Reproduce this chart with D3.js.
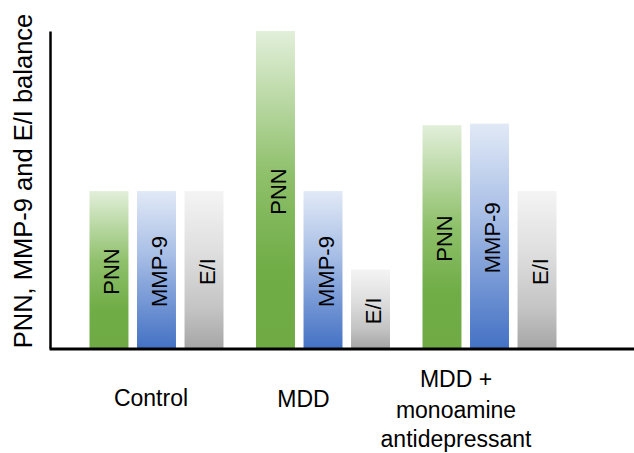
<!DOCTYPE html>
<html>
<head>
<meta charset="utf-8">
<script src="https://cdn.jsdelivr.net/npm/d3@7/dist/d3.min.js"></script>
<style>
  html, body { margin: 0; padding: 0; background: #fff; }
  svg { display: block; font-family: "Liberation Sans", Arial, sans-serif; }
</style>
</head>
<body>
<svg id="chart" width="634" height="453"></svg>
<script>
const groups = ["Control", "MDD", "MDD + monoamine antidepressant"];
const groupLines = [["Control"], ["MDD"], ["MDD +", "monoamine", "antidepressant"]];
const series = ["PNN", "MMP-9", "E/I"];
const values = [
  [1.0, 1.0, 1.0],
  [2.02, 1.0, 0.5],
  [1.42, 1.43, 1.0]
];
const yTitle = "PNN, MMP-9 and E/I balance";
const gradientStops = {
  "PNN":   [["#e2efda", 0], ["#8fc06b", 0.45], ["#70ad47", 0.75], ["#6faa45", 1]],
  "MMP-9": [["#e1e9f6", 0], ["#a9bfe6", 0.4], ["#6d91d2", 0.75], ["#4472c4", 1]],
  "E/I":   [["#f4f4f4", 0], ["#dedede", 0.4], ["#c4c4c4", 0.75], ["#a6a6a6", 1]]
};

const svg = d3.select("#chart");
const defs = svg.append("defs");
series.forEach((s, i) => {
  const g = defs.append("linearGradient")
    .attr("id", "grad" + i)
    .attr("x1", 0).attr("y1", 0).attr("x2", 0).attr("y2", 1);
  gradientStops[s].forEach(([c, o]) => g.append("stop").attr("offset", o).attr("stop-color", c));
});

const y = d3.scaleLinear().domain([0, 2.02]).range([348, 31]);
const xGroup = d3.scalePoint().domain(groups).range([156.5, 489.5]);
const xInner = d3.scaleBand().domain(series).range([0, 134]).paddingInner(0.18).paddingOuter(0);
const xLabel = d3.scalePoint().domain(groups).range([151, 456]);
const xAxisScale = d3.scaleLinear().domain([0, 1]).range([49, 634]);

const flat = [];
groups.forEach((g, gi) => series.forEach((s, si) => flat.push({ g, s, si, v: values[gi][si] })));

const bars = svg.append("g").selectAll("g.bar").data(flat).join("g").attr("class", "bar");
bars.append("rect")
  .attr("x", d => xGroup(d.g) - 67 + xInner(d.s))
  .attr("width", xInner.bandwidth())
  .attr("y", d => y(d.v))
  .attr("height", d => y(0) - y(d.v))
  .attr("fill", d => `url(#grad${d.si})`);
bars.append("text")
  .attr("transform", d => {
    const cx = xGroup(d.g) - 67 + xInner(d.s) + xInner.bandwidth() / 2 + 3;
    const cy = (y(d.v) + y(0)) / 2 + 2;
    return `translate(${cx},${cy}) rotate(-90)`;
  })
  .attr("text-anchor", "middle")
  .attr("dominant-baseline", "central")
  .attr("font-size", 22)
  .attr("fill", "#000")
  .text(d => d.s);

// axes
svg.append("g").attr("transform", "translate(50,0)")
  .call(d3.axisLeft(y).tickValues([]).tickSizeOuter(0))
  .call(g => g.select(".domain").attr("stroke", "#000").attr("stroke-width", 2.5));
svg.append("g").attr("transform", `translate(0,${y(0) + 0.5})`)
  .call(d3.axisBottom(xAxisScale).tickValues([]).tickSizeOuter(0))
  .call(g => g.select(".domain").attr("stroke", "#000").attr("stroke-width", 3));

// category labels
const baseY = [[406], [407], [387, 418, 447]];
groups.forEach((g, gi) => {
  const t = svg.append("text")
    .attr("text-anchor", "middle")
    .attr("font-size", 23)
    .attr("fill", "#000");
  groupLines[gi].forEach((line, li) => {
    t.append("tspan").attr("x", xLabel(g)).attr("y", baseY[gi][li]).text(line);
  });
});

// y title
svg.append("text")
  .attr("transform", "translate(32,181) rotate(-90)")
  .attr("text-anchor", "middle")
  .attr("font-size", 25.5)
  .attr("fill", "#000")
  .text(yTitle);
</script>
</body>
</html>
